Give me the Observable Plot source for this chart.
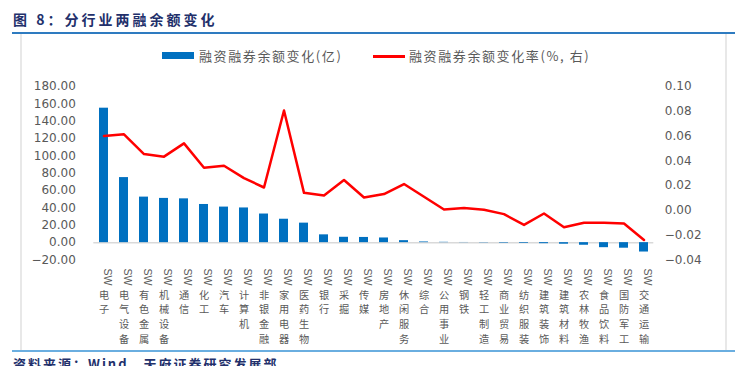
<!DOCTYPE html>
<html>
<head>
<meta charset="utf-8">
<script src="https://cdn.jsdelivr.net/npm/d3@7"></script>
<script src="https://cdn.jsdelivr.net/npm/@observablehq/plot@0.6"></script>
<style>
  html, body { margin: 0; padding: 0; background: #fff; }
  body { width: 746px; height: 366px; position: relative; overflow: hidden; font-family: "Noto Sans CJK SC", sans-serif; }
  #title { position: absolute; left: 13px; top: 9px; font-size: 14px; font-weight: bold; color: #22306b; letter-spacing: 3px; white-space: nowrap; }
  #topline { position: absolute; left: 12px; top: 32px; width: 723px; height: 2px; background: #2e7bc0; }
  #bottomline { position: absolute; left: 12px; top: 350px; width: 723px; height: 2px; background: #6aaee0; }
  #lborder { position: absolute; left: 20px; top: 34px; width: 2px; height: 316px; background: #e8e8e8; }
  #rborder { position: absolute; left: 725px; top: 34px; width: 2px; height: 316px; background: #e8e8e8; }
  #legend { position: absolute; left: 0; top: 46px; width: 746px; height: 20px; font-size: 13px; color: #595959; letter-spacing: 1.6px; }
  .sw { position: absolute; }
  .lt { position: absolute; top: 0; white-space: nowrap; line-height: 20px; }
  #chart { position: absolute; left: 0; top: 36px; }
  #caption { position: absolute; left: 13px; top: 354px; font-size: 13px; font-weight: bold; color: #22306b; letter-spacing: 2px; white-space: nowrap; }
</style>
</head>
<body>
<div id="title">图 8：分行业两融余额变化</div>
<div id="topline"></div>
<div id="lborder"></div>
<div id="rborder"></div>
<div id="legend">
  <div class="sw" style="left:162px; top:6px; width:32px; height:7px; background:#0070c0;"></div>
  <div class="lt" style="left:199px;">融资融券余额变化(亿)</div>
  <div class="sw" style="left:373px; top:9px; width:32px; height:2.5px; background:#ff0000;"></div>
  <div class="lt" style="left:409px;">融资融券余额变化率(%, 右)</div>
</div>
<div id="chart"></div>
<div id="bottomline"></div>
<div id="caption">资料来源：Wind，天府证券研究发展部</div>
<script>
const categories = ["电子","电气设备","有色金属","机械设备","通信","化工","汽车","计算机","非银金融","家用电器","医药生物","银行","采掘","传媒","房地产","休闲服务","综合","公用事业","钢铁","轻工制造","商业贸易","纺织服装","建筑装饰","建筑材料","农林牧渔","食品饮料","国防军工","交通运输"];
const balanceChange = [155, 75, 52.5, 51, 50.5, 44, 41, 40, 33, 27, 22.5, 9, 6.2, 6, 5.4, 2.3, 0.8, 0.4, 0.2, -0.3, -0.6, -0.8, -1.2, -1.8, -3, -5.8, -6.4, -10.8];
const rateChange = [0.060, 0.0614, 0.0455, 0.0434, 0.0541, 0.0345, 0.0361, 0.0261, 0.0185, 0.0806, 0.0142, 0.0121, 0.0245, 0.0104, 0.0132, 0.0213, 0.011, 0.0007, 0.0019, 0.0005, -0.003, -0.0117, -0.0025, -0.0135, -0.010, -0.010, -0.0106, -0.0238];
const leftTicks = [-20, 0, 20, 40, 60, 80, 100, 120, 140, 160, 180];
const rightTicks = [-0.04, -0.02, 0, 0.02, 0.04, 0.06, 0.08, 0.10];

const rows = categories.map((c, i) => ({cat: c, bal: balanceChange[i], rate: rateChange[i]}));
const toLeft = d3.scaleLinear([-0.04, 0.10], [-20, 180]);
const numFont = "DejaVu Sans, sans-serif";

const chart = Plot.plot({
  width: 746,
  height: 314,
  marginTop: 50,
  marginBottom: 90.5,
  marginLeft: 93.3,
  marginRight: 92.7,
  style: {fontFamily: "'Noto Sans CJK SC', sans-serif", overflow: "visible", background: "transparent"},
  x: {type: "band", domain: categories, paddingInner: 0.55, paddingOuter: 0.275, axis: null},
  y: {domain: [-20, 180], axis: null},
  marks: [
    Plot.ruleY([0], {stroke: "#d9d9d9", strokeWidth: 1.5}),
    Plot.barY(rows, {x: "cat", y: "bal", fill: "#0070c0"}),
    Plot.line(rows, {x: "cat", y: d => toLeft(d.rate), stroke: "#ff0000", strokeWidth: 2.5, curve: "linear"}),
    Plot.axisY({anchor: "left", ticks: leftTicks, tickSize: 0, tickPadding: 18, tickFormat: d3.format(".2f"), fill: "#595959", fontSize: 12, fontFamily: numFont, label: null}),
    Plot.axisY({anchor: "right", ticks: rightTicks.map(t => toLeft(t)), tickSize: 0, tickPadding: 11, tickFormat: v => d3.format(".2f")(Math.round(toLeft.invert(v) * 100) / 100), textAnchor: "start", fill: "#595959", fontSize: 12, fontFamily: numFont, label: null}),
    Plot.text(categories, {x: d => d, text: () => "SW", rotate: 90, textAnchor: "start", frameAnchor: "bottom", dy: 8.5, fontSize: 10.5, fontFamily: "'Liberation Sans Narrow', 'Liberation Sans', sans-serif", fill: "#595959"}),
    Plot.text(categories, {x: d => d, text: d => [...d].join("\n"), frameAnchor: "bottom", lineAnchor: "top", lineHeight: 1.45, dy: 28, fontSize: 10.2, fill: "#595959"})
  ]
});
document.getElementById("chart").appendChild(chart);
</script>
</body>
</html>
